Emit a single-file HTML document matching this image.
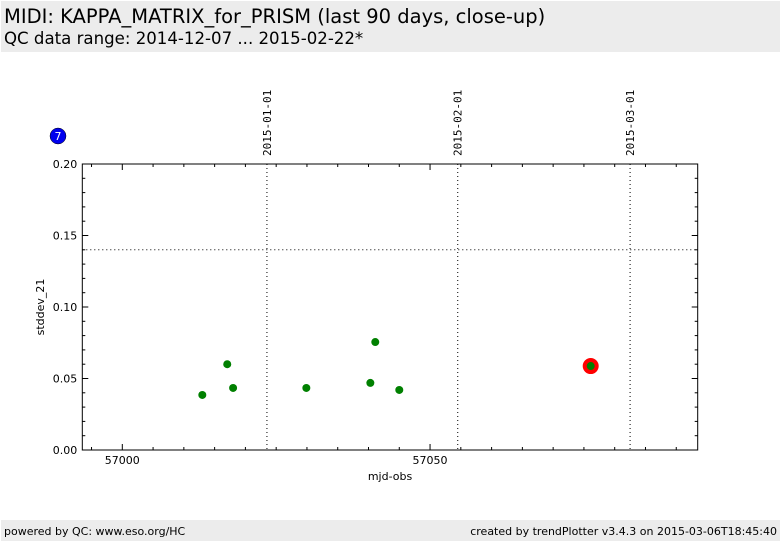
<!DOCTYPE html>
<html><head><meta charset="utf-8"><style>
body{margin:0;width:782px;height:542px;background:#fff;overflow:hidden;font-family:"DejaVu Sans","Liberation Sans",sans-serif;}
#hdr{position:absolute;left:1px;top:1px;width:779px;height:51px;background:#ececec;}
#ftr{position:absolute;left:1px;top:520px;width:779px;height:21px;background:#ececec;font-size:11px;}
</style></head><body>
<div id="hdr">
<div style="position:absolute;left:3px;top:4px;font-size:19.5px;">MIDI: KAPPA_MATRIX_for_PRISM (last 90 days, close-up)</div>
<div style="position:absolute;left:3px;top:28px;font-size:16.6px;">QC data range: 2014-12-07 ... 2015-02-22*</div>
</div>
<svg id="chart" width="782" height="542" style="position:absolute;left:0;top:0" xmlns="http://www.w3.org/2000/svg"></svg>
<div id="ftr">
<span style="position:absolute;left:3px;top:5px;">powered by QC: www.eso.org/HC</span>
<span style="position:absolute;right:3px;top:5px;">created by trendPlotter v3.4.3 on 2015-03-06T18:45:40</span>
</div>
<script>
const mjd=[57013.0,57017.05,57018.0,57029.9,57040.3,57041.1,57045.0,57076.1];
const vals=[0.0385,0.060,0.0434,0.0434,0.0469,0.0755,0.042,0.0587];
const highlightIdx=[7];
const xTicks=[57000,57050];
const yTicks=[0.00,0.05,0.10,0.15,0.20];
const dateLabels=["2015-01-01","2015-02-01","2015-03-01"];
const dateMjd=[57023.5,57054.5,57082.5];
const threshold=[0.14];
const outlierCount=["7"];
const L=82.3,R=697.7,T=164,B=450;
const x0=57000,pxPerDay=6.155;
const X=v=>122.3+(v-x0)*pxPerDay;
const Y=v=>B-(v/0.2)*(B-T);
const svg=document.getElementById('chart');
const NS='http://www.w3.org/2000/svg';
function mk(t,a,p){const e=document.createElementNS(NS,t);for(const k in a)e.setAttribute(k,a[k]);(p||svg).appendChild(e);return e;}
let e;
e=mk('rect',{x:L,y:T,width:R-L,height:B-T,fill:'none',stroke:'#000','stroke-width':1});


for(let d=56995;d<=57090;d+=5){const xx=X(d);if(xx<L||xx>R)continue;const len=(d%50===0)?6:3;
mk('line',{x1:xx,x2:xx,y1:B,y2:B-len,stroke:'#000'});mk('line',{x1:xx,x2:xx,y1:T,y2:T+len,stroke:'#000'});}
xTicks.forEach(t=>{e=mk('text',{x:X(t),y:B+14,'font-size':11,'text-anchor':'middle'});e.textContent=t;

});
for(let i=0;i<=20;i++){const v=i*0.01,yy=Y(v);const len=(i%5===0)?6:3;
mk('line',{x1:L,x2:L+len,y1:yy,y2:yy,stroke:'#000'});mk('line',{x1:R,x2:R-len,y1:yy,y2:yy,stroke:'#000'});}
yTicks.forEach(t=>{e=mk('text',{x:L-5,y:Y(t)+4,'font-size':11,'text-anchor':'end'});e.textContent=t.toFixed(2);

});
dateMjd.forEach((d,i)=>{const xx=X(d);
e=mk('line',{x1:xx,x2:xx,y1:T,y2:B,stroke:'#000','stroke-dasharray':'1,3'});


e=mk('text',{x:0,y:0,'font-size':11,'text-anchor':'start',transform:`translate(${xx+4},${T-8}) rotate(-90)`,'font-family':'DejaVu Sans Mono,Liberation Mono,monospace'});e.textContent=dateLabels[i];

});
threshold.forEach(t=>{e=mk('line',{x1:L,x2:R,y1:Y(t),y2:Y(t),stroke:'#000','stroke-dasharray':'1,3'});

});
highlightIdx.forEach(i=>{e=mk('circle',{cx:X(mjd[i]),cy:Y(vals[i]),r:8,fill:'#f00'});

});
mjd.forEach((m,i)=>{e=mk('circle',{cx:X(m),cy:Y(vals[i]),r:4,fill:'#008000'});

});
e=mk('circle',{cx:58,cy:136,r:8,fill:'#0000ee',stroke:'#000','stroke-width':0.5});


e=mk('text',{x:58,y:140,'font-size':11,fill:'#fff','text-anchor':'middle'});e.textContent=outlierCount[0];


e=mk('text',{x:390,y:480,'font-size':11,'text-anchor':'middle'});e.textContent='mjd-obs';


e=mk('text',{x:0,y:0,'font-size':11,'text-anchor':'middle',transform:`translate(44,307) rotate(-90)`});e.textContent='stddev_21';


</script>
</body></html>
